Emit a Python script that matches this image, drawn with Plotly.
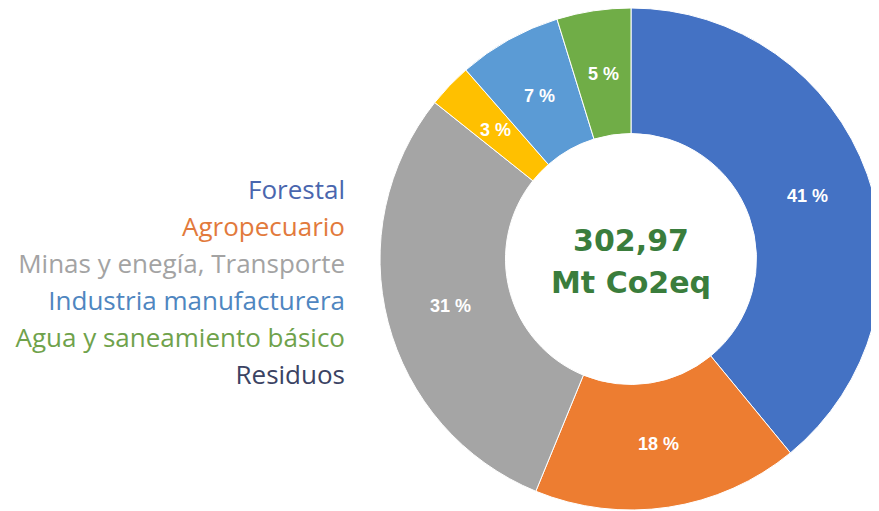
import math
import plotly.graph_objects as go

# =========================
# DATA
# =========================

sectores = [
    "Forestal",
    "Agropecuario",
    "Minas y enegía, Transporte",
    "Industria manufacturera",
    "Agua y saneamiento básico",
    "Residuos",
]
porcentajes = [41, 18, 31, 3, 7, 5]
colores_slice = ["#4472C4", "#ED7D31", "#A5A5A5", "#FFC000", "#5B9BD5", "#70AD47"]
colores_texto = ["#4A66AE", "#E27A3C", "#A3A3A3", "#4F86C0", "#6FA24B", "#3B4363"]
total_txt = ["302,97", "Mt Co2eq"]

# page body has an 8px margin, so everything is laid out 8px up/left
OFF = 8
CX, CY, R = 631 - OFF, 259 - OFF, 251

# =========================
# DONUT
# =========================

fig = go.Figure(go.Pie(
    labels=sectores,
    values=porcentajes,
    hole=0.5,
    sort=False,
    direction="clockwise",
    rotation=0,
    marker=dict(colors=colores_slice, line=dict(color="white", width=1)),
    textinfo="none",
    domain=dict(x=[(CX - R) / 879, (CX + R) / 879], y=[1 - (CY + R) / 511, 1.0]),
    showlegend=False,
))

# slice labels at mid angle, middle of the ring (annotations sit above the pie)
total = sum(porcentajes)
acum = 0
for v in porcentajes:
    ang = (acum + v / 2) / total * 2 * math.pi
    fig.add_annotation(
        x=CX + 0.745 * R * math.sin(ang),
        y=CY - 0.745 * R * math.cos(ang),
        xref="x", yref="y", showarrow=False,
        text="<b>%d %%</b>" % v,
        font=dict(family="Liberation Sans", size=18, color="white"),
    )
    acum += v

# left legend as coloured text (pixel-like hidden axes)
leg_y = [192 + i * 37 - OFF for i in range(len(sectores))]
fig.add_trace(go.Scatter(
    x=[345 - OFF] * len(sectores),
    y=leg_y,
    mode="text",
    text=sectores,
    textposition="middle left",
    textfont=dict(family="Open Sans", size=26, color=colores_texto),
    hoverinfo="skip",
    showlegend=False,
))

# centre text
fig.add_trace(go.Scatter(
    x=[CX, CX],
    y=[243 - OFF, 285 - OFF],
    mode="text",
    text=["<b>%s</b>" % t for t in total_txt],
    textposition="middle center",
    textfont=dict(family="DejaVu Sans", size=30, color="#3A7D3C"),
    hoverinfo="skip",
    showlegend=False,
))

fig.update_layout(
    width=879, height=511,
    margin=dict(l=0, r=0, t=0, b=0),
    paper_bgcolor="white",
    plot_bgcolor="rgba(0,0,0,0)",
    xaxis=dict(range=[0, 879], visible=False, fixedrange=True),
    yaxis=dict(range=[511, 0], visible=False, fixedrange=True),
)

fig.write_html("out.html")
